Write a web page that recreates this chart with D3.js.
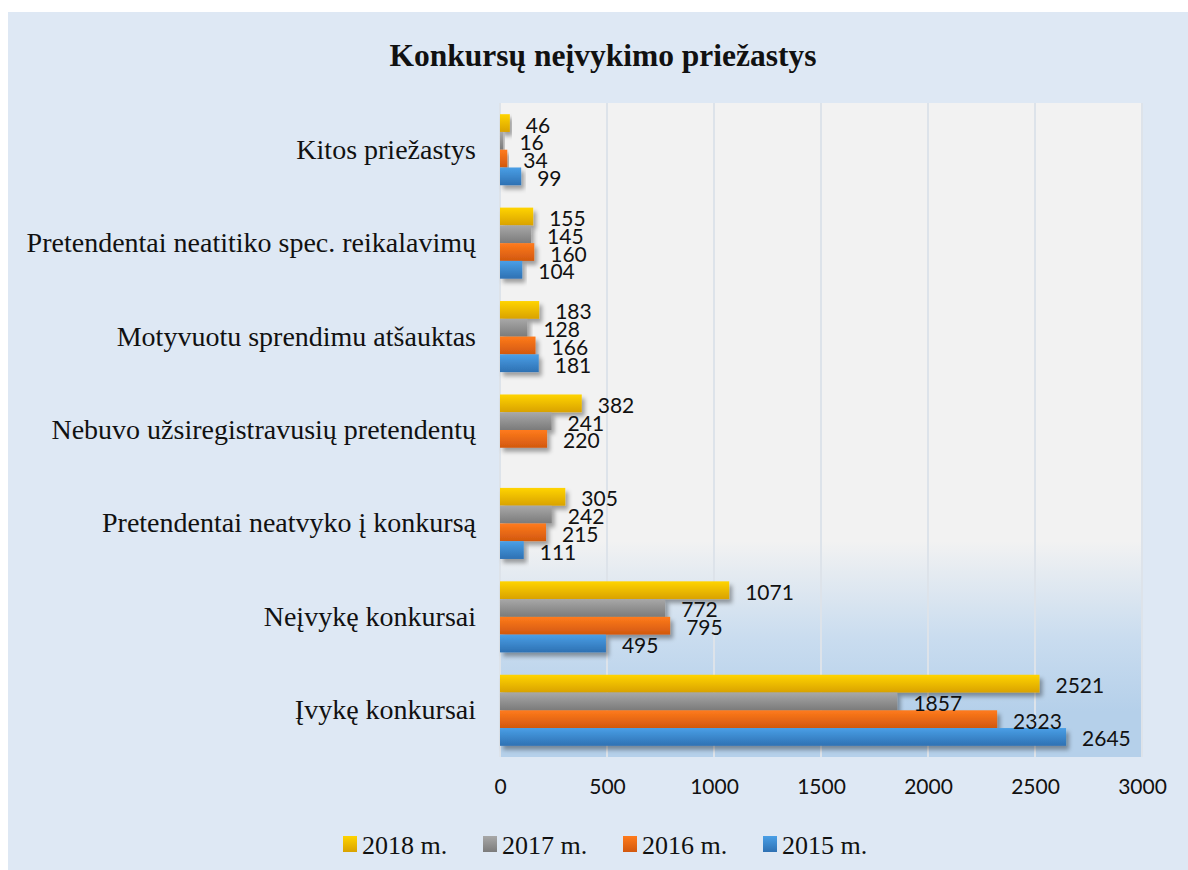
<!DOCTYPE html>
<html>
<head>
<meta charset="utf-8">
<script src="https://cdn.jsdelivr.net/npm/d3@7"></script>
<style>
  html, body { margin: 0; padding: 0; background: #ffffff; }
  svg { display: block; }
</style>
</head>
<body>
<div id="chart"></div>
<script>
"use strict";

/********/
/* data */
/********/

const categories = [
  "Kitos priežastys",
  "Pretendentai neatitiko spec. reikalavimų",
  "Motyvuotu sprendimu atšauktas",
  "Nebuvo užsiregistravusių pretendentų",
  "Pretendentai neatvyko į konkursą",
  "Neįvykę konkursai",
  "Įvykę konkursai",
];

const seriesNames = ["2018 m.", "2017 m.", "2016 m.", "2015 m."];

const values2018 = [46, 155, 183, 382, 305, 1071, 2521];
const values2017 = [16, 145, 128, 241, 242, 772, 1857];
const values2016 = [34, 160, 166, 220, 215, 795, 2323];
const values2015 = [99, 104, 181, null, 111, 495, 2645];

const xTicks = [0, 500, 1000, 1500, 2000, 2500, 3000];

const title = "Konkursų neįvykimo priežastys";

/**********/
/* layout */
/**********/

const width = 1188;
const height = 870;
const plot = { left: 500, right: 1142, top: 103, bottom: 757 };

const colours = [
  { top: "#ffd400", bottom: "#d9a200" },
  { top: "#a8a8a8", bottom: "#7b7b7b" },
  { top: "#ff7b1c", bottom: "#d2580f" },
  { top: "#4a9fe6", bottom: "#2e71b3" },
];

const seriesValues = [values2018, values2017, values2016, values2015];

const svg = d3
  .select("#chart")
  .append("svg")
  .attr("width", width)
  .attr("height", height);

const defs = svg.append("defs");

colours.forEach((c, i) => {
  const g = defs
    .append("linearGradient")
    .attr("id", `grad${i}`)
    .attr("x1", 0)
    .attr("y1", 0)
    .attr("x2", 0)
    .attr("y2", 1);
  g.append("stop").attr("offset", "0%").attr("stop-color", c.top);
  g.append("stop").attr("offset", "100%").attr("stop-color", c.bottom);
});

const bg = defs
  .append("linearGradient")
  .attr("id", "plotBg")
  .attr("gradientUnits", "userSpaceOnUse")
  .attr("x1", 0)
  .attr("y1", plot.top)
  .attr("x2", 0)
  .attr("y2", plot.bottom);
bg.append("stop").attr("offset", "0.67").attr("stop-color", "#f2f2f2");
bg.append("stop").attr("offset", "0.82").attr("stop-color", "#c9dcef");
bg.append("stop").attr("offset", "0.93").attr("stop-color", "#b5d0ea");
bg.append("stop").attr("offset", "1").attr("stop-color", "#b5d0ea");

const shadow = defs
  .append("filter")
  .attr("id", "shadow")
  .attr("x", "-10%")
  .attr("y", "-30%")
  .attr("width", "130%")
  .attr("height", "180%");
shadow
  .append("feDropShadow")
  .attr("dx", 3)
  .attr("dy", 4)
  .attr("stdDeviation", 2.2)
  .attr("flood-color", "#000")
  .attr("flood-opacity", 0.35);

// outer box
svg
  .append("rect")
  .attr("x", 8)
  .attr("y", 12)
  .attr("width", width - 8)
  .attr("height", height - 12)
  .attr("fill", "#dee8f4");

// plot area
svg
  .append("rect")
  .attr("x", plot.left)
  .attr("y", plot.top)
  .attr("width", plot.right - plot.left)
  .attr("height", plot.bottom - plot.top)
  .attr("fill", "url(#plotBg)");

/**********/
/* scales */
/**********/

const x = d3
  .scaleLinear()
  .domain([0, 3000])
  .range([plot.left, plot.right]);

const y = d3
  .scaleBand()
  .domain(categories)
  .range([plot.top, plot.bottom])
  .paddingInner(0)
  .paddingOuter(0);

const ySub = d3
  .scaleBand()
  .domain(seriesNames)
  .range([0, y.bandwidth()])
  .paddingInner(0)
  .paddingOuter(0.63);

// gridlines
svg
  .append("g")
  .selectAll("line")
  .data(xTicks)
  .join("line")
  .attr("x1", d => x(d))
  .attr("x2", d => x(d))
  .attr("y1", plot.top)
  .attr("y2", plot.bottom)
  .attr("stroke", "#dde3ea")
  .attr("stroke-width", 2);

/********/
/* bars */
/********/

const rows = [];
categories.forEach((cat, ci) => {
  seriesNames.forEach((s, si) => {
    const v = seriesValues[si][ci];
    if (v !== null) rows.push({ cat, s, si, v });
  });
});

svg
  .append("g")
  .selectAll("rect")
  .data(rows)
  .join("rect")
  .attr("x", x(0))
  .attr("y", d => y(d.cat) + ySub(d.s))
  .attr("width", d => x(d.v) - x(0))
  .attr("height", ySub.bandwidth())
  .attr("fill", d => `url(#grad${d.si})`)
  .attr("filter", "url(#shadow)");

svg
  .append("g")
  .selectAll("text")
  .data(rows)
  .join("text")
  .attr("x", d => x(d.v) + 16)
  .attr("y", d => y(d.cat) + ySub(d.s) + ySub.bandwidth() / 2 + 1)
  .attr("dominant-baseline", "central")
  .attr("font-family", "Lato, 'Open Sans', sans-serif")
  .attr("font-size", 21)
  .attr("fill", "#111")
  .text(d => d.v);

/********/
/* axes */
/********/

const xAxis = svg
  .append("g")
  .attr("transform", `translate(0, ${plot.bottom})`)
  .call(
    d3
      .axisBottom(x)
      .tickValues(xTicks)
      .tickSize(0)
      .tickPadding(22)
      .tickFormat(d3.format("d")),
  );
xAxis.select(".domain").remove();
xAxis
  .selectAll("text")
  .attr("font-family", "Lato, 'Open Sans', sans-serif")
  .attr("font-size", 21)
  .attr("fill", "#111");

const yAxis = svg
  .append("g")
  .attr("transform", `translate(${plot.left - 24}, 0)`)
  .call(d3.axisLeft(y).tickSize(0).tickPadding(0));
yAxis.select(".domain").remove();
yAxis
  .selectAll("text")
  .attr("font-family", "'Liberation Serif', 'Times New Roman', serif")
  .attr("font-size", 28)
  .attr("fill", "#111");

/*********/
/* title */
/*********/

svg
  .append("text")
  .attr("x", 603)
  .attr("y", 55)
  .attr("text-anchor", "middle")
  .attr("dominant-baseline", "central")
  .attr("font-family", "'Liberation Serif', 'Times New Roman', serif")
  .attr("font-weight", "bold")
  .attr("font-size", 31.5)
  .attr("fill", "#111")
  .text(title);

/**********/
/* legend */
/**********/

const legendX = d3
  .scalePoint()
  .domain(seriesNames)
  .range([343, 763]);

const legend = svg
  .append("g")
  .selectAll("g")
  .data(seriesNames)
  .join("g")
  .attr("transform", d => `translate(${legendX(d)}, 844)`);

legend
  .append("rect")
  .attr("x", 0)
  .attr("y", -8)
  .attr("width", 14)
  .attr("height", 16)
  .attr("fill", (d, i) => `url(#grad${i})`);

legend
  .append("text")
  .attr("x", 19)
  .attr("y", 1)
  .attr("dominant-baseline", "central")
  .attr("font-family", "'Liberation Serif', 'Times New Roman', serif")
  .attr("font-size", 26)
  .attr("fill", "#111")
  .text(d => d);
</script>
</body>
</html>
